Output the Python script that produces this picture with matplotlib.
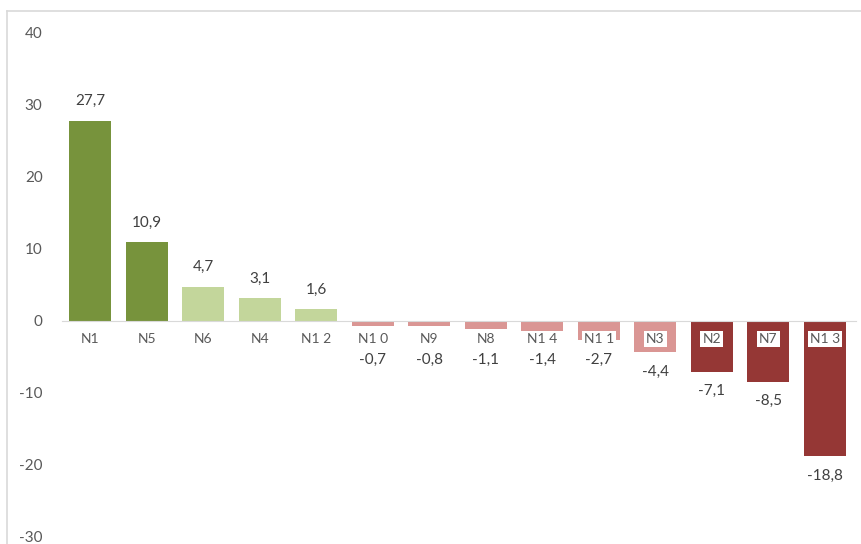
import matplotlib.pyplot as plt
from matplotlib.lines import Line2D

plt.rcParams['font.family'] = ['Lato', 'DejaVu Sans']
plt.rcParams['axes.unicode_minus'] = False

names = ['N1', 'N5', 'N6', 'N4', 'N12', 'N10', 'N9', 'N8', 'N14', 'N11', 'N3', 'N2', 'N7', 'N13']
values = [27.7, 10.9, 4.7, 3.1, 1.6, -0.7, -0.8, -1.1, -1.4, -2.7, -4.4, -7.1, -8.5, -18.8]
tick_labels = ['N1', 'N5', 'N6', 'N4', 'N1 2', 'N1 0', 'N9', 'N8', 'N1 4', 'N1 1', 'N3', 'N2', 'N7', 'N1 3']

def bar_color(v):
    if v >= 10:
        return '#77933C'
    if v >= 0:
        return '#C3D69B'
    if v > -5:
        return '#DA9694'
    return '#953735'

fig = plt.figure(figsize=(8.61, 5.44), dpi=100)
ax = fig.add_axes([0.072, 0.013, 0.922, 0.928])

x = range(len(values))
ax.bar(x, values, width=0.74, color=[bar_color(v) for v in values], zorder=2)

ax.set_ylim(-30, 40)
ax.set_xlim(-0.5, len(values) - 0.45)
ax.set_yticks([-30, -20, -10, 0, 10, 20, 30, 40])
ax.tick_params(axis='y', length=0, labelsize=11, labelcolor='#595959', pad=14)

ax.set_axisbelow(False)
for s in ['top', 'right', 'left']:
    ax.spines[s].set_visible(False)
ax.spines['bottom'].set_position(('data', 0))
ax.spines['bottom'].set_color('#D9D9D9')
ax.spines['bottom'].set_zorder(3)

ax.set_xticks(list(x))
ax.set_xticklabels(tick_labels)
ax.tick_params(axis='x', length=0, labelsize=10, labelcolor='#595959', pad=9)
for lbl in ax.get_xticklabels():
    lbl.set_bbox(dict(facecolor='white', edgecolor='none', pad=1.5))

for i, v in enumerate(values):
    txt = ('%.1f' % v).replace('.', ',')
    if v >= 0:
        ax.annotate(txt, (i, v), xytext=(0, 14), textcoords='offset points',
                    ha='center', va='center', fontsize=11, color='#404040')
    else:
        y = min(v - 2.7, -5.5)
        ax.annotate(txt, (i, y), ha='center', va='center', fontsize=11, color='#404040')

# light frame round the chart
fig.add_artist(Line2D([0.008, 1.0], [0.979, 0.979], color='#D9D9D9', lw=1.2))
fig.add_artist(Line2D([0.008, 0.008], [0.0, 0.979], color='#D9D9D9', lw=1.2))

fig.savefig('out.png', dpi=100)
